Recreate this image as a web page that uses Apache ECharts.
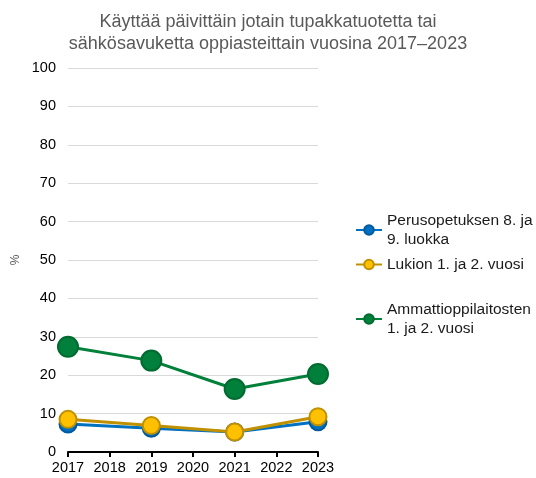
<!DOCTYPE html>
<html><head><meta charset="utf-8">
<script src="https://cdn.jsdelivr.net/npm/echarts@6/dist/echarts.min.js"></script>
<style>html,body{margin:0;padding:0;background:#fff}#c{width:536px;height:478px}</style>
</head><body><div id="c"></div>
<script>
const years = [2017, 2019, 2021, 2023];
const perus = [7.3, 6.2, 5.2, 7.9];
const lukio = [8.5, 6.9, 5.2, 9.2];
const ammatti = [27.4, 23.8, 16.4, 20.3];
const seriesNames = ['Perusopetuksen 8. ja\n9. luokka', 'Lukion 1. ja 2. vuosi', 'Ammattioppilaitosten\n1. ja 2. vuosi'];
const yTicks = [0,10,20,30,40,50,60,70,80,90,100];

const chart = echarts.init(document.getElementById('c'));
const font = 'Arial, "Liberation Sans", sans-serif';
function mk(name, vals, color, fill, border, size, z) {
  return {
    name: name, type: 'line', data: years.map((y,i)=>[y, vals[i]]),
    symbol: 'circle', symbolSize: size, z: z,
    lineStyle: {color: color, width: 3},
    itemStyle: {color: fill, borderColor: border, borderWidth: 2},
    emphasis: {disabled: true}
  };
}
function leg(name, top) {
  return {
    data: [name], left: 350, top: top, orient: 'vertical',
    itemWidth: 26, itemHeight: 12, itemGap: 0,
    textStyle: {fontFamily: font, fontSize: 15.5, color: '#1a1a1a', lineHeight: 19},
    selectedMode: false
  };
}
chart.setOption({
  animation: false,
  title: {
    text: 'Käyttää päivittäin jotain tupakkatuotetta tai\nsähkösavuketta oppiasteittain vuosina 2017–2023',
    left: 'center', top: 6,
    textStyle: {fontFamily: font, fontSize: 18, fontWeight: 'normal', color: '#595959', lineHeight: 22}
  },
  legend: [leg(seriesNames[0], 206), leg(seriesNames[1], 250), leg(seriesNames[2], 295)],
  grid: {left: 68, right: 218, top: 68, bottom: 26, containLabel: false},
  xAxis: {
    type: 'value', min: 2017, max: 2023, interval: 1,
    axisLine: {lineStyle: {color: '#000', width: 2}},
    axisTick: {show: true, length: 5, lineStyle: {color: '#000', width: 2}},
    axisLabel: {fontFamily: font, fontSize: 14.5, color: '#000', formatter: v => String(v)},
    splitLine: {show: false}
  },
  yAxis: {
    type: 'value', min: 0, max: 100, interval: 10,
    name: '%', nameLocation: 'middle', nameGap: 46,
    nameTextStyle: {fontFamily: font, fontSize: 12, color: '#595959'},
    axisLine: {show: false}, axisTick: {show: false},
    axisLabel: {fontFamily: font, fontSize: 14.5, color: '#000', margin: 12, formatter: v => yTicks.includes(v) ? String(v) : ''},
    splitLine: {lineStyle: {color: '#d9d9d9', width: 1}}
  },
  series: [
    mk(seriesNames[0], perus, '#0070C0', '#0070C0', '#005A9E', 17, 2),
    mk(seriesNames[1], lukio, '#BF9000', '#FFC000', '#BF9000', 17, 3),
    mk(seriesNames[2], ammatti, '#00803A', '#00803A', '#006B30', 20, 4)
  ]
});
</script></body></html>
